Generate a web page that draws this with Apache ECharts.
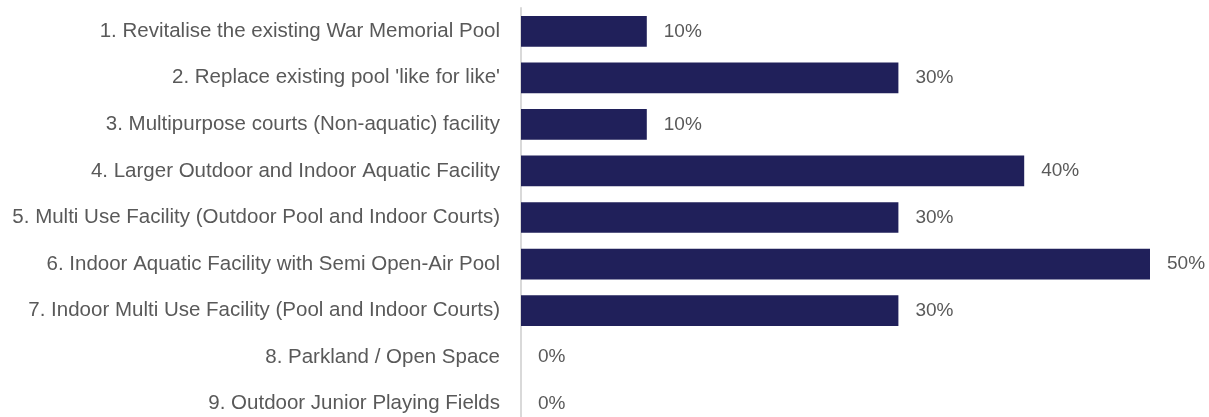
<!DOCTYPE html>
<html>
<head>
<meta charset="utf-8">
<script src="https://cdn.jsdelivr.net/npm/echarts@6/dist/echarts.min.js"></script>
<style>
  html, body { margin: 0; padding: 0; background: #fff; }
  #chart { width: 1209px; height: 417px; }
</style>
</head>
<body>
<div id="chart"></div>
<script>
// options, top to bottom
const categories = [
  '1. Revitalise the existing War Memorial Pool',
  "2. Replace existing pool 'like for like'",
  '3. Multipurpose courts (Non-aquatic) facility',
  '4. Larger Outdoor and Indoor Aquatic Facility',
  '5. Multi Use Facility (Outdoor Pool and Indoor Courts)',
  '6. Indoor Aquatic Facility with Semi Open-Air Pool',
  '7. Indoor Multi Use Facility (Pool and Indoor Courts)',
  '8. Parkland / Open Space',
  '9. Outdoor Junior Playing Fields'
];
// percent of respondents
const shares = [10, 30, 10, 40, 30, 50, 30, 0, 0];

const font = '"Liberation Sans", Arial, sans-serif';
const textColor = '#595959';

const chart = echarts.init(document.getElementById('chart'));
chart.setOption({
  animation: false,
  grid: { left: 521, right: 59, top: 8, bottom: -10, outerBoundsMode: 'none' },
  xAxis: {
    type: 'value',
    min: 0,
    max: 50,
    show: false
  },
  yAxis: {
    type: 'category',
    inverse: true,
    data: categories,
    axisLine: { lineStyle: { color: '#d9d9d9', width: 2 } },
    axisTick: { show: false },
    axisLabel: {
      color: textColor,
      fontFamily: font,
      fontSize: 20.5,
      margin: 21
    }
  },
  series: [{
    type: 'bar',
    data: shares,
    barWidth: '66%',
    itemStyle: { color: '#20205a' },
    label: {
      show: true,
      position: 'right',
      distance: 17,
      formatter: '{c}%',
      color: textColor,
      fontFamily: font,
      fontSize: 19
    }
  }]
});
</script>
</body>
</html>
